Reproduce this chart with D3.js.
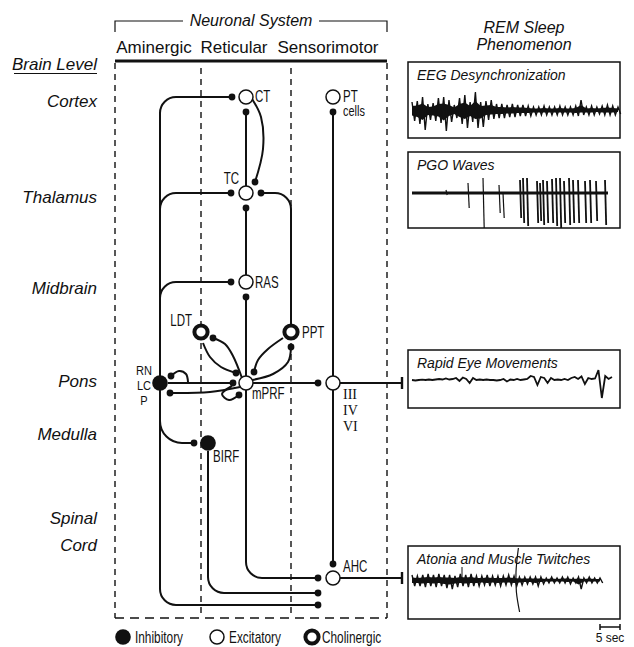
<!DOCTYPE html>
<html>
<head>
<meta charset="utf-8">
<script src="https://cdn.jsdelivr.net/npm/d3@7"></script>
<style>
body { margin: 0; background: #fff; }
svg { display: block; }
text { font-family: "Liberation Sans", Arial, Helvetica, sans-serif; fill: #111; }
.serif { font-family: "Liberation Serif", "Times New Roman", serif; }
</style>
</head>
<body>
<svg id="fig" width="634" height="647"></svg>
<script>
// ---- data ----
let systems = ["Aminergic", "Reticular", "Sensorimotor"];
let levels = ["Cortex", "Thalamus", "Midbrain", "Pons", "Medulla", "Spinal", "Cord"];
let levelRows = [46, 142, 233, 326, 379, 463, 490];

// neurons, in grid units of the diagram box
let nodeNames = ["CT", "PT", "TC", "RAS", "LDT", "PPT", "RN", "mPRF", "III", "BIRF", "AHC"];
let nodeKinds = ["exc", "exc", "exc", "exc", "chol", "chol", "inh", "exc", "exc", "inh", "exc"];
let nodeCols  = [131, 218, 131, 131, 86, 176, 45, 131, 218, 93, 218];
let nodeRows  = [36, 36, 132, 221, 271, 271, 322, 322, 322, 382, 517];

// connections: elbow wires (rounded corners) and curved wires
let elbowWires = [
    [[117, 36], [45, 36], [45, 544], [203, 544]],
    [[45, 160], [45, 132], [116, 132]],
    [[45, 250], [45, 221], [116, 221]],
    [[45, 345], [45, 382], [79, 382]],
    [[53, 322], [118, 322]],
    [[131, 125], [131, 51]],
    [[131, 214], [131, 147]],
    [[131, 315], [131, 236]],
    [[131, 329], [131, 517], [203, 517]],
    [[93, 390], [93, 532], [203, 532]],
    [[176, 263], [176, 132], [146, 132]],
    [[138, 322], [203, 322]],
    [[225, 322], [287, 322]],
    [[218, 315], [218, 51]],
    [[218, 329], [218, 503]],
    [[225, 517], [287, 517]]
];
let elbowStart = ["dot", "", "", "", "", "", "", "", "", "", "", "", "", "", "", ""];
let elbowEnd   = ["dot", "dot", "dot", "dot", "dot", "dot", "dot", "dot", "dot", "dot", "dot", "dot", "bar", "dot", "dot", "bar"];

let curveWires = [
    [[137, 38], [146, 56], [148, 88], [140, 121]],
    [[98, 277], [110, 283], [118, 295], [127, 317]],
    [[88, 282], [95, 296], [106, 306], [121, 312]],
    [[176, 286], [173, 301], [158, 313], [137, 319]],
    [[168, 277], [153, 288], [143, 299], [139, 311]],
    [[55, 332], [95, 331], [125, 326]],
    [[56, 315], [64, 310], [71, 313], [73, 321]],
    [[117, 325], [107, 333], [114, 339], [124, 334]]
];
let curveStart = ["", "dot", "", "dot", "", "dot", "dot", ""];
let curveEnd   = ["dot", "", "dot", "", "dot", "", "", "dot"];

let legendKinds = ["inh", "exc", "chol"];
let legendNames = ["Inhibitory", "Excitatory", "Cholinergic"];

// REM sleep traces (seconds on x; amplitude in trace units)
let panelTitles = ["EEG Desynchronization", "PGO Waves", "Rapid Eye Movements", "Atonia and Muscle Twitches"];

let eegUp   = [8, 9, 13, 6, 7, 12, 13, 10, 5, 12, 15, 8, 18, 8, 9, 10, 6, 6, 5, 6, 5, 5, 4, 3, 3, 4, 3, 3, 4, 3, 3, 4, 10, 3, 4, 3, 4, 5, 4, 3];
let eegDown = [11, 14, 20, 10, 11, 13, 21, 12, 8, 14, 18, 12, 18, 17, 10, 9, 8, 8, 7, 7, 6, 6, 6, 5, 5, 5, 5, 5, 5, 5, 5, 6, 5, 5, 5, 4, 5, 5, 5, 4];

let pgoTime = [8.5, 14, 17.75, 21.75, 22.75, 27, 27.75, 28.75, 31.25, 32, 32.75, 33.75, 35, 36, 37, 38, 39.25, 40.25, 41.5, 43.25, 44.5, 46, 48.25];
let pgoUp   = [3, 10, 15, 8, 0, 13, 15, 15, 12, 10, 13, 12, 14, 15, 15, 12, 15, 13, 13, 12, 13, 12, 13];
let pgoDown = [2, 15, 35, 20, 25, 25, 30, 33, 30, 28, 32, 30, 30, 33, 35, 30, 32, 30, 30, 30, 30, 28, 32];

let remValues = [0, -0.5, 0, 0.3, 0, 0.5, 0, 0.5, 1, 0.5, 1.5, 0.5, 1, 2, -1, 2.5, 1, -3, 2, 0,
    0.5, 0, 0.5, 0, 0, -0.5, 0, 1, -1.5, 0.5, 0, 1, 0, 0.5, 1, 4, 3, -5, 3, 2,
    -3, 2, 0, 0.5, 0, 1, 0, 2, 3, 1, 3.5, -4, 2, 1, 1.5, 10, -18, 4, 1, 3];

let atoniaUp   = [5, 4, 5, 6, 5, 6, 5, 5, 4, 6, 5, 6, 4, 4, 5, 4, 4, 4, 5, 4, 3, 3, 3, 3, 3, 2, 3, 2, 3, 3, 2, 3, 2, 3, 2, 2];
let atoniaDown = [6, 6, 7, 6, 7, 6, 8, 9, 7, 6, 7, 6, 6, 5, 6, 5, 6, 5, 5, 6, 5, 4, 4, 6, 4, 3, 3, 3, 3, 4, 3, 9, 3, 3, 3, 3];
let twitchTime = [12.5];
let twitchAmp = [13];
let artifactTime = [26.6, 26, 26.1, 26.9];
let artifactAmp = [32, 8, -12, -32];

let scaleBarSec = 5;

// ---- drawing ----
let svg = d3.select("#fig");
let x = d3.scaleLinear().domain([0, 272]).range([115, 387]);
let y = d3.scaleLinear().domain([0, 557]).range([61, 618]);
let ink = "#111";

// condensed label: squeeze the glyphs horizontally around the anchor point
function narrowText(g, tx, ty, str, size, anchor, sx) {
    return g.append("text")
        .attr("transform", "translate(" + tx + "," + ty + ") scale(" + (sx || 0.74) + ",1)")
        .attr("text-anchor", anchor || "start")
        .style("font-size", size + "px")
        .text(str);
}

// header
let hdr = svg.append("g");
let midX = (x(0) + x(272)) / 2;
hdr.append("path")
    .attr("d", "M" + x(0) + ",32V21H" + (midX - 68) + "M" + (midX + 68) + ",21H" + x(272) + "V32")
    .attr("fill", "none").attr("stroke", ink).attr("stroke-width", 1.2);
hdr.append("text").attr("x", midX).attr("y", 26).attr("text-anchor", "middle")
    .style("font-style", "italic").style("font-size", "16px").text("Neuronal System");
let sysX = [154, 234, 328];
hdr.selectAll("text.sys").data(systems).enter().append("text")
    .attr("class", "sys")
    .attr("x", (d, i) => sysX[i]).attr("y", 53)
    .attr("text-anchor", "middle").style("font-size", "17px").text(d => d);
hdr.append("line").attr("x1", x(0)).attr("x2", x(272)).attr("y1", y(0)).attr("y2", y(0))
    .attr("stroke", ink).attr("stroke-width", 3);

// brain levels
svg.append("text").attr("x", 97).attr("y", 70).attr("text-anchor", "end")
    .style("font-style", "italic").style("font-size", "17px").text("Brain Level");
svg.append("line").attr("x1", 14).attr("x2", 97).attr("y1", 73.5).attr("y2", 73.5)
    .attr("stroke", ink).attr("stroke-width", 1.2);
svg.selectAll("text.level").data(levels).enter().append("text")
    .attr("class", "level")
    .attr("x", 97).attr("y", (d, i) => y(levelRows[i]))
    .attr("text-anchor", "end").style("font-style", "italic").style("font-size", "17px")
    .text(d => d);

// dashed box
let box = svg.append("g").attr("fill", "none").attr("stroke", ink).attr("stroke-width", 1.4);
[0, 86, 176, 272].forEach(function(c) {
    box.append("line").attr("x1", x(c)).attr("x2", x(c)).attr("y1", y(c === 0 || c === 272 ? 2 : 7)).attr("y2", y(557))
        .attr("stroke-dasharray", "6,5");
});
box.append("line").attr("x1", x(0)).attr("x2", x(272)).attr("y1", y(557)).attr("y2", y(557))
    .attr("stroke-dasharray", "9,6");

// wires
let wires = svg.append("g").attr("fill", "none").attr("stroke", ink).attr("stroke-width", 2);
let marks = svg.append("g");

function elbowPath(pts, r) {
    let p = pts.map(d => [x(d[0]), y(d[1])]);
    let path = d3.path();
    path.moveTo(p[0][0], p[0][1]);
    for (let i = 1; i < p.length - 1; i++) {
        path.arcTo(p[i][0], p[i][1], p[i + 1][0], p[i + 1][1], r);
    }
    path.lineTo(p[p.length - 1][0], p[p.length - 1][1]);
    return path.toString();
}

function endMark(pt, kind) {
    if (kind === "dot") {
        marks.append("circle").attr("cx", x(pt[0])).attr("cy", y(pt[1])).attr("r", 3.4).attr("fill", ink);
    } else if (kind === "bar") {
        marks.append("line").attr("x1", x(pt[0])).attr("x2", x(pt[0]))
            .attr("y1", y(pt[1]) - 6).attr("y2", y(pt[1]) + 6)
            .attr("stroke", ink).attr("stroke-width", 2.4);
    }
}

elbowWires.forEach(function(pts, i) {
    wires.append("path").attr("d", elbowPath(pts, i === 3 ? 22 : 16));
    endMark(pts[0], elbowStart[i]);
    endMark(pts[pts.length - 1], elbowEnd[i]);
});

let curveLine = d3.line().x(d => x(d[0])).y(d => y(d[1])).curve(d3.curveCatmullRom.alpha(0.5));
curveWires.forEach(function(pts, i) {
    wires.append("path").attr("d", curveLine(pts));
    endMark(pts[0], curveStart[i]);
    endMark(pts[pts.length - 1], curveEnd[i]);
});

// neurons
function drawNeuron(g, cx, cy, kind) {
    if (kind === "inh") {
        g.append("circle").attr("cx", cx).attr("cy", cy).attr("r", 7.8).attr("fill", ink);
    } else if (kind === "chol") {
        g.append("circle").attr("cx", cx).attr("cy", cy).attr("r", 6.6)
            .attr("fill", "#fff").attr("stroke", ink).attr("stroke-width", 4);
    } else {
        g.append("circle").attr("cx", cx).attr("cy", cy).attr("r", 7)
            .attr("fill", "#fff").attr("stroke", ink).attr("stroke-width", 1.5);
    }
}
let nodes = svg.append("g");
nodeNames.forEach(function(n, i) {
    drawNeuron(nodes, x(nodeCols[i]), y(nodeRows[i]), nodeKinds[i]);
});

// neuron labels
let labelDx = {CT: 9, PT: 10, TC: -7, RAS: 9, LDT: -9, PPT: 11, mPRF: 6, BIRF: 5, AHC: 10};
let labelDy = {CT: 5, PT: 5, TC: -9, RAS: 6, LDT: -6, PPT: 6, mPRF: 16, BIRF: 19, AHC: -6};
let labelAnchor = {TC: "end", LDT: "end"};
let labels = svg.append("g");
nodeNames.forEach(function(n, i) {
    if (labelDx[n] === undefined) return;
    narrowText(labels, x(nodeCols[i]) + labelDx[n], y(nodeRows[i]) + labelDy[n], n, 16, labelAnchor[n], 0.72);
});
let pt = nodeNames.indexOf("PT");
narrowText(labels, x(nodeCols[pt]) + 10, y(nodeRows[pt]) + 19, "cells", 14, "start", 0.78);
let rn = nodeNames.indexOf("RN");
["RN", "LC", "P"].forEach(function(t, k) {
    narrowText(labels, x(nodeCols[rn]) - 16, y(nodeRows[rn]) - 8 + k * 15, t, 13.5, "middle", 0.82);
});
let cn = nodeNames.indexOf("III");
["III", "IV", "VI"].forEach(function(t, k) {
    svg.append("text").attr("class", "serif")
        .attr("x", x(nodeCols[cn]) + 10).attr("y", y(nodeRows[cn]) + 16 + k * 16)
        .style("font-size", "14px").text(t);
});

// legend
let legX = [123, 217, 312];
let leg = svg.append("g");
legendNames.forEach(function(n, i) {
    drawNeuron(leg, legX[i], 637, legendKinds[i]);
    narrowText(leg, legX[i] + (i === 2 ? 10 : 12), 643, n, 16, "start", 0.74);
});

// ---- REM sleep phenomena panels ----
let px0 = 408, px1 = 620;
let panelTop = [62, 152, 350, 546];
let panelBottom = [138, 228, 408, 619];
let panelCenter = [110, 193, 380, 580];

svg.append("text").attr("x", 524).attr("y", 33).attr("text-anchor", "middle")
    .style("font-style", "italic").style("font-size", "16px").text("REM Sleep");
svg.append("text").attr("x", 524).attr("y", 50).attr("text-anchor", "middle")
    .style("font-style", "italic").style("font-size", "16px").text("Phenomenon");

let panels = svg.append("g");
panelTitles.forEach(function(t, i) {
    panels.append("rect").attr("x", px0).attr("y", panelTop[i])
        .attr("width", px1 - px0).attr("height", panelBottom[i] - panelTop[i])
        .attr("fill", "none").attr("stroke", ink).attr("stroke-width", 1.5);
    panels.append("text").attr("x", px0 + 9).attr("y", panelTop[i] + 18)
        .style("font-style", "italic").style("font-size", "14px").text(t);
});

let sec = d3.scaleLinear().domain([0, 51.5]).range([412, 618]);
function ampScale(c) { return d3.scaleLinear().domain([0, 1]).range([c, c - 1]); }

function burst(up, down, t1, c) {
    let a = ampScale(c);
    let step = t1 / (up.length - 1);
    let pts = [];
    up.forEach(function(u, i) {
        pts.push([sec(i * step), a(u)]);
        pts.push([sec(i * step + step / 2), a(-down[i])]);
    });
    let g = panels.append("g");
    g.append("path")
        .attr("d", d3.area().x((d, i) => sec(i * step)).y0((d, i) => a(up[i] * 0.5)).y1((d, i) => a(-down[i] * 0.5))(up))
        .attr("fill", ink);
    g.append("path").attr("d", d3.line()(pts))
        .attr("fill", "none").attr("stroke", ink).attr("stroke-width", 1.4).attr("stroke-linejoin", "miter");
    return a;
}

// EEG
burst(eegUp, eegDown, 51.5, panelCenter[0]);

// PGO
let pgoA = ampScale(panelCenter[1]);
panels.append("line").attr("x1", sec(0)).attr("x2", sec(49)).attr("y1", pgoA(0)).attr("y2", pgoA(0))
    .attr("stroke", ink).attr("stroke-width", 3.2);
pgoTime.forEach(function(t, i) {
    panels.append("path")
        .attr("d", "M" + sec(t) + "," + pgoA(pgoUp[i]) + "L" + (sec(t) + 1.2) + "," + pgoA(-pgoDown[i]))
        .attr("stroke", ink).attr("stroke-width", i > 4 ? 1.8 : 1.2).attr("fill", "none");
});

// REM
let remA = ampScale(panelCenter[2]);
let remStep = 50 / (remValues.length - 1);
panels.append("path")
    .attr("d", d3.line().x((d, i) => sec(i * remStep)).y(d => remA(d))(remValues))
    .attr("fill", "none").attr("stroke", ink).attr("stroke-width", 1.8);

// Atonia
let atA = burst(atoniaUp, atoniaDown, 47, panelCenter[3]);
twitchTime.forEach(function(t, i) {
    panels.append("line").attr("x1", sec(t)).attr("x2", sec(t)).attr("y1", atA(0)).attr("y2", atA(twitchAmp[i]))
        .attr("stroke", ink).attr("stroke-width", 1);
});
panels.append("path")
    .attr("d", d3.line().x(d => sec(d)).y((d, i) => atA(artifactAmp[i])).curve(d3.curveCatmullRom)(artifactTime))
    .attr("fill", "none").attr("stroke", ink).attr("stroke-width", 1.2);

// time scale bar
let barX = 600, barLen = sec(scaleBarSec) - sec(0);
svg.append("path")
    .attr("d", "M" + barX + ",624V630M" + barX + ",627H" + (barX + barLen) + "M" + (barX + barLen) + ",624V630")
    .attr("fill", "none").attr("stroke", ink).attr("stroke-width", 1.5);
svg.append("text").attr("x", barX + barLen / 2).attr("y", 642).attr("text-anchor", "middle")
    .style("font-size", "12px").text(scaleBarSec + " sec");
</script>
</body>
</html>
